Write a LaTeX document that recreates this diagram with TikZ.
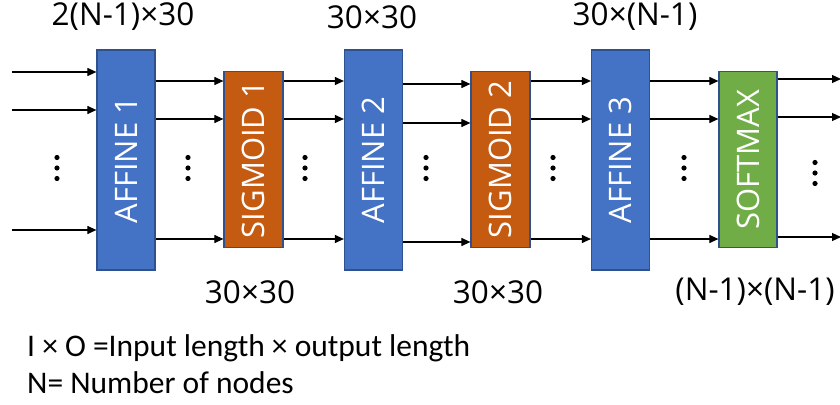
\documentclass[tikz,border=0pt]{standalone}
\usepackage{fontspec}
\setmainfont{Open Sans}
\newfontfamily\legfont{Carlito}
\usetikzlibrary{arrows.meta}

\definecolor{affblue}{HTML}{4472C4}
\definecolor{sigorange}{HTML}{C55A11}
\definecolor{softgreen}{HTML}{70AD47}
\definecolor{edgeblue}{HTML}{2F528F}

\begin{document}
\begin{tikzpicture}[
    x=1pt, y=-1pt,
    layerbox/.style={rectangle, draw=edgeblue, line width=1.2pt, text=white, inner sep=0pt, font=\fontsize{31}{31}\selectfont},
    affine/.style={layerbox, fill=affblue, minimum width=58pt, minimum height=220pt},
    sigmoid/.style={layerbox, fill=sigorange, minimum width=59pt, minimum height=176pt},
    softmax/.style={layerbox, fill=softgreen, minimum width=58pt, minimum height=176pt},
    sizelbl/.style={font=\fontsize{31.5}{31.5}\selectfont, inner sep=0pt},
    legend/.style={font=\legfont\fontsize{31.5}{31.5}\selectfont, anchor=west, inner sep=0pt},
    link/.style={-{Triangle[length=9pt,width=8pt]}, line width=1.1pt}
]
\useasboundingbox (0,0) rectangle (840,404);

% Layers
\node[affine]  (aff1) at (126,160)   {\rotatebox{90}{AFFINE 1}};
\node[sigmoid] (sig1) at (253.5,159.5) {\rotatebox{90}{SIGMOID 1}};
\node[affine]  (aff2) at (373.5,160) {\rotatebox{90}{AFFINE 2}};
\node[sigmoid] (sig2) at (500.5,159.5) {\rotatebox{90}{SIGMOID 2}};
\node[affine]  (aff3) at (620.5,160) {\rotatebox{90}{AFFINE 3}};
\node[softmax] (soft) at (748,159.5) {\rotatebox{90}{SOFTMAX}};

% Input and output ends
\coordinate (inpt) at (12,0);
\coordinate (outp) at (841,0);

% Connections between the layers
\foreach \a/\b/\ya/\yb/\yc in {inpt/aff1.west/72/110/230, aff1.east/sig1.west/81/119/239,
    sig1.east/aff2.west/81/119/239, aff2.east/sig2.west/84/123/242,
    sig2.east/aff3.west/81/119/239, aff3.east/soft.west/81/119/239, soft.east/outp/79/117/237}{
  \foreach \y in {\ya,\yb,\yc}
    \draw[link] (\a |- 0,\y) -- (\b |- 0,\y);
}

% Vertical dots
\foreach \x/\y in {57/168, 188/168, 305/168, 426/168, 553/168, 684/168, 815/173}{
  \foreach \d in {-10.5,0,10.5}
    \fill (\x,\y+\d) circle (2.6pt);
}

% Size labels
\node[sizelbl] (top1) at (123,17)  {2(N-1)×30};
\node[sizelbl] (top2) at (372,17)  {30×30};
\node[sizelbl] (top3) at (635,17)  {30×(N-1)};
\node[sizelbl] (bot1) at (250,292) {30×30};
\node[sizelbl] (bot2) at (498,292) {30×30};
\node[sizelbl] (bot3) at (755,292) {(N-1)×(N-1)};

% Legend
\node[legend] (leg1) at (27,348) {I × O =Input length × output length};
\node[legend] (leg2) at (27,383) {N= Number of nodes};

\end{tikzpicture}
\end{document}
